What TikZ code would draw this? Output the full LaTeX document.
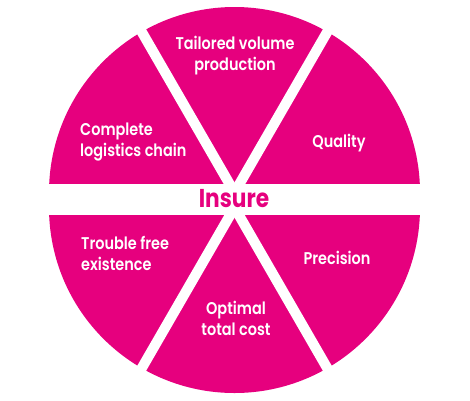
\documentclass[tikz,border=0pt]{standalone}
\usepackage{fontspec}
\setmainfont{Poppins SemiBold}[FakeStretch=0.85]
\newfontfamily\insurefont{Poppins Bold}[FakeStretch=0.84]
\definecolor{mag}{HTML}{E6007E}
\tikzset{
  seg/.style={fill=mag},
  gap/.style={draw=white, line width=10.2pt},
  lab/.style={text=white, inner sep=0pt, font=\fontsize{17}{20.7}\selectfont, anchor=base},
}
\begin{document}
\begin{tikzpicture}[x=1pt,y=-1pt]
\useasboundingbox (0,0) rectangle (470,400);
% halves
\coordinate (ct) at (234.5,192.5);
\coordinate (cb) at (234.5,207.5);
\fill[seg] (49,192.5) arc[start angle=180, end angle=360, radius=185.5] -- cycle;
\fill[seg] (49,207.5) arc[start angle=180, end angle=0, radius=185.5] -- cycle;
% gaps
\coordinate (tl) at (124.5,2);
\coordinate (tr) at (344.5,2);
\coordinate (bl) at (124.5,398);
\coordinate (br) at (344.5,398);
\draw[gap] (tl) -- (ct) -- +(5.8,10);
\draw[gap] (tr) -- (ct) -- +(-5.8,10);
\draw[gap] (bl) -- (cb) -- +(5.8,-10);
\draw[gap] (br) -- (cb) -- +(-5.8,-10);
% band
\fill[white] (0,184) rectangle (470,215);
% labels
\node[lab] (t1) at (235,49.3) {Tailored volume};
\node[lab] (t2) at (235,70) {production};
\node[lab] (q) at (339,147.3) {Quality};
\node[lab, anchor=base west] (c1) at (80,135.7) {Complete};
\node[lab, anchor=base west] (c2) at (80,156.7) {logistics chain};
\node[anchor=base, inner sep=0pt, text=mag, font=\insurefont\fontsize{25.8}{30}\selectfont] (ins) at (234,207.3) {Insure};
\node[lab, anchor=base west] (tr1) at (81,249.3) {Trouble free};
\node[lab, anchor=base west] (tr2) at (81,270) {existence};
\node[lab] (p) at (337,264.3) {Precision};
\node[lab] (o1) at (236,314.3) {Optimal};
\node[lab] (o2) at (236,335) {total cost};
\end{tikzpicture}
\end{document}
